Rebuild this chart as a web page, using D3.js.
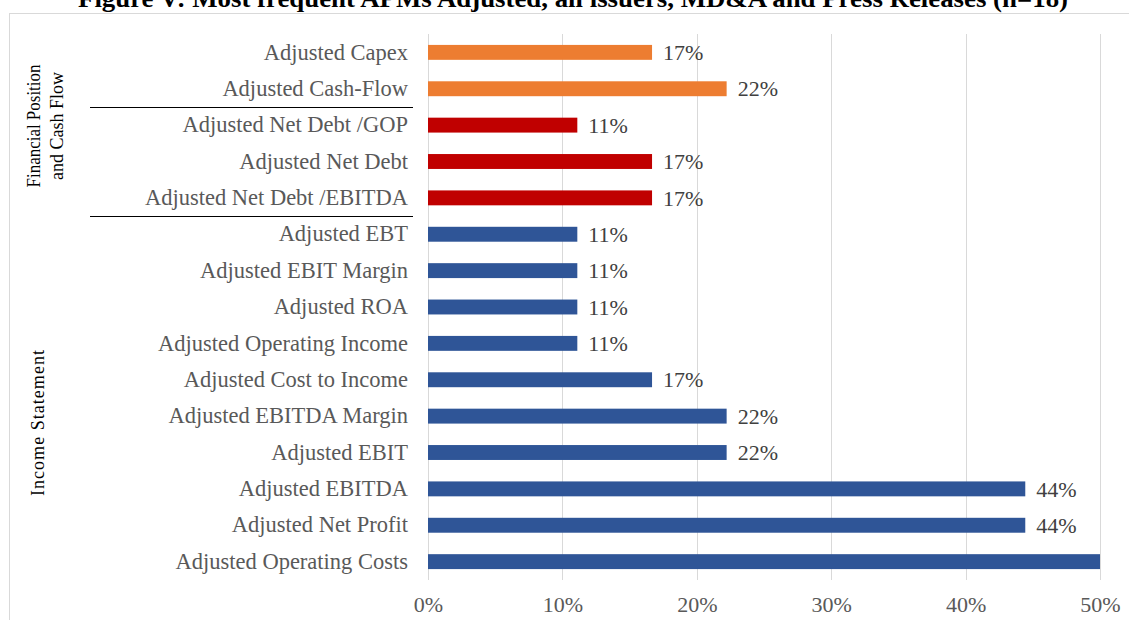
<!DOCTYPE html>
<html>
<head>
<meta charset="utf-8">
<script src="https://cdn.jsdelivr.net/npm/d3@7"></script>
<style>
  body { margin: 0; background: #fff; }
  svg { display: block; font-family: "Liberation Serif", "Times New Roman", serif; }
</style>
</head>
<body>
<script>
// chart data, top row first
var categories = ["Adjusted Capex", "Adjusted Cash-Flow", "Adjusted Net Debt /GOP", "Adjusted Net Debt",
  "Adjusted Net Debt /EBITDA", "Adjusted EBT", "Adjusted EBIT Margin", "Adjusted ROA",
  "Adjusted Operating Income", "Adjusted Cost to Income", "Adjusted EBITDA Margin", "Adjusted EBIT",
  "Adjusted EBITDA", "Adjusted Net Profit", "Adjusted Operating Costs"];
var values = [16.67, 22.22, 11.11, 16.67, 16.67, 11.11, 11.11, 11.11, 11.11, 16.67, 22.22, 22.22, 44.44, 44.44, 50];
var valueLabels = ["17%", "22%", "11%", "17%", "17%", "11%", "11%", "11%", "11%", "17%", "22%", "22%", "44%", "44%", "50%"];
var groups = ["cash", "cash", "debt", "debt", "debt", "income", "income", "income", "income", "income", "income", "income", "income", "income", "income"];
var xTicks = [0, 10, 20, 30, 40, 50];
var title = "Figure V: Most frequent APMs Adjusted, all issuers, MD&A and Press Releases (n=18)";

var width = 1129, height = 620;
var plotLeft = 428, plotRight = 1100, plotTop = 34, plotBottom = 580;

var svg = d3.select("body").append("svg")
  .attr("width", width)
  .attr("height", height);

var color = d3.scaleOrdinal()
  .domain(["cash", "debt", "income"])
  .range(["#ED7D31", "#C00000", "#2F5597"]);

var x = d3.scaleLinear().domain([0, 50]).range([plotLeft, plotRight]);
var y = d3.scaleBand().domain(categories).range([plotTop, plotBottom]).paddingInner(0.59).paddingOuter(0.3);

// title, mostly cut off at the top
svg.append("text")
  .attr("x", 573)
  .attr("y", 7)
  .attr("text-anchor", "middle")
  .attr("textLength", 990)
  .attr("lengthAdjust", "spacingAndGlyphs")
  .style("font-size", "26px")
  .style("font-weight", "bold")
  .text(title);

// chart frame
svg.append("rect")
  .attr("x", 9.5).attr("y", 13.5)
  .attr("width", 1130).attr("height", 620)
  .attr("fill", "none")
  .attr("stroke", "#d9d9d9");

// gridlines
svg.append("g")
  .selectAll("line")
  .data(xTicks)
  .enter()
  .append("line")
  .attr("x1", function(d) { return Math.round(x(d)) + 0.5; })
  .attr("x2", function(d) { return Math.round(x(d)) + 0.5; })
  .attr("y1", plotTop)
  .attr("y2", plotBottom)
  .attr("stroke", "#d9d9d9");

svg.append("clipPath").attr("id", "plotclip")
  .append("rect").attr("x", 0).attr("y", 0).attr("width", plotRight + 2).attr("height", height);

// bars
svg.append("g")
  .selectAll("rect")
  .data(categories)
  .enter()
  .append("rect")
  .attr("x", x(0))
  .attr("y", function(d) { return y(d); })
  .attr("width", function(d, i) { return x(values[i]) - x(0); })
  .attr("height", y.bandwidth())
  .attr("fill", function(d, i) { return color(groups[i]); });

// value labels (the 50% one falls outside the frame)
svg.append("g")
  .attr("clip-path", "url(#plotclip)")
  .selectAll("text")
  .data(categories)
  .enter()
  .append("text")
  .attr("x", function(d, i) { return x(values[i]) + 11; })
  .attr("y", function(d) { return y(d) + y.bandwidth() / 2; })
  .attr("dy", "0.35em")
  .style("font-size", "22px")
  .attr("fill", "#404040")
  .text(function(d, i) { return valueLabels[i]; });

// category axis
var yAxis = d3.axisLeft(y).tickSize(0).tickPadding(20);
var ya = svg.append("g")
  .attr("transform", "translate(" + plotLeft + ",0)")
  .call(yAxis);
ya.select(".domain").remove();
ya.selectAll("text")
  .style("font-family", "Liberation Serif, serif")
  .style("font-size", "22.5px")
  .attr("fill", "#595959");

// value axis
var xAxis = d3.axisBottom(x).tickValues(xTicks).tickSize(0).tickPadding(16)
  .tickFormat(function(d) { return d + "%"; });
var xa = svg.append("g")
  .attr("transform", "translate(0," + plotBottom + ")")
  .call(xAxis);
xa.select(".domain").remove();
xa.selectAll("text")
  .style("font-family", "Liberation Serif, serif")
  .style("font-size", "22px")
  .attr("fill", "#595959");

// group separators
var seps = [2, 5];
svg.append("g")
  .selectAll("line")
  .data(seps)
  .enter()
  .append("line")
  .attr("x1", 90)
  .attr("x2", 413)
  .attr("y1", function(d) { return Math.round(y(categories[d]) - y.step() * y.paddingInner() / 2) + 0.5; })
  .attr("y2", function(d) { return Math.round(y(categories[d]) - y.step() * y.paddingInner() / 2) + 0.5; })
  .attr("stroke", "#000");

// group labels
var g1 = svg.append("text")
  .attr("transform", "translate(40,126) rotate(-90)")
  .attr("text-anchor", "middle")
  .style("font-size", "18px");
g1.append("tspan").attr("x", 0).attr("dy", 0)
  .attr("textLength", 123).attr("lengthAdjust", "spacingAndGlyphs")
  .text("Financial  Position");
g1.append("tspan").attr("x", 0).attr("dy", "1.25em").text("and Cash Flow");

svg.append("text")
  .attr("transform", "translate(44,423) rotate(-90)")
  .attr("text-anchor", "middle")
  .attr("textLength", 146)
  .attr("lengthAdjust", "spacing")
  .style("font-size", "18px")
  .text("Income  Statement");
</script>
</body>
</html>
